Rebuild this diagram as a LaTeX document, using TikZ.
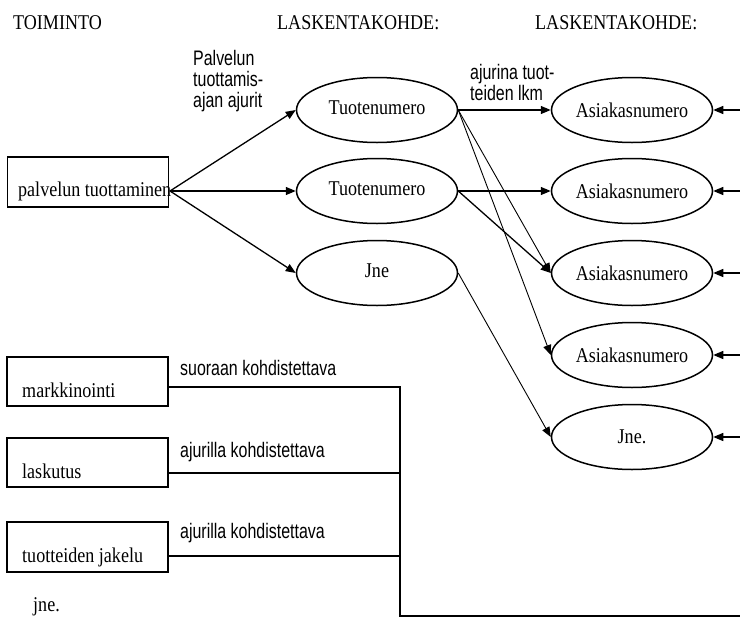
\documentclass[tikz,border=0pt]{standalone}
\usepackage{fontspec}
\setmainfont[FakeStretch=0.86]{Liberation Serif}
\newfontfamily\narrowsf[FakeStretch=0.76]{Liberation Sans}
\usetikzlibrary{shapes.geometric,arrows.meta}
\begin{document}
\begin{tikzpicture}[x=1pt,y=-1pt,
  serif/.style={font=\fontsize{21}{23}\selectfont, inner sep=0pt},
  lbl/.style={font=\narrowsf\fontsize{21}{21}\selectfont, align=left, inner sep=0pt},
  ell/.style={ellipse, draw, line width=1.5pt, minimum width=161pt, minimum height=65pt, inner sep=0pt, font=\fontsize{21}{23}\selectfont},
  boxn/.style={draw, line width=1.3pt, minimum width=161pt, minimum height=49pt, inner sep=0pt},
  conn/.style={line width=1.3pt, -{Triangle[length=10pt,width=8pt]}},
  thinconn/.style={line width=0.9pt, -{Triangle[length=10pt,width=8pt]}},
  bus/.style={line width=1.3pt}]
\useasboundingbox (0,0) rectangle (740,627);
\fill[white] (0,0) rectangle (740,627);

% headers
\node[serif, anchor=base west] (h1) at (13,29) {TOIMINTO};
\node[serif, anchor=base west] (h2) at (277,29) {LASKENTAKOHDE:};
\node[serif, anchor=base west] (h3) at (535,29) {LASKENTAKOHDE:};

% left ellipses
\node[ell] (t1) at (377,110) {\raisebox{5pt}{Tuotenumero}};
\node[ell] (t2) at (377,191) {\raisebox{5pt}{Tuotenumero}};
\node[ell] (t3) at (377,273) {\raisebox{5pt}{Jne}};

% right ellipses
\node[ell] (a1) at (632,110) {Asiakasnumero};
\node[ell] (a2) at (632,191) {Asiakasnumero};
\node[ell] (a3) at (632,273) {Asiakasnumero};
\node[ell] (a4) at (632,355) {Asiakasnumero};
\node[ell] (a5) at (632,437) {Jne.};

% right edge inputs
\coordinate (e1) at (740,110);
\coordinate (e2) at (740,191);
\coordinate (e3) at (740,273);
\coordinate (e4) at (740,355);
\coordinate (e5) at (740,437);
\foreach \i in {1,...,5} { \draw[conn] (e\i) -- (a\i.east); }

% activity box
\node[boxn, minimum height=50pt] (pt) at (88,182) {};
\node[serif, anchor=base west] (ptl) at (18,196) {palvelun tuottaminen};
\coordinate (src) at (170,191);
\draw[conn] (src) -- (t1.west);
\draw[conn] (src) -- (t2.west);
\draw[conn] (src) -- (t3.west);

\node[lbl, anchor=base west] (pl) at (193,107) {Palvelun\\tuottamis-\\ajan ajurit};

% connectors between cost objects
\draw[conn] (t1.east) -- (a1.west);
\draw[conn] (t2.east) -- (a2.west);
\draw[thinconn] (t1.east) -- (a3.west);
\draw[thinconn] (t1.east) -- (a4.west);
\draw[conn] (t2.east) -- (a3.west);
\draw[thinconn] (t3.east) -- (a5.west);
\node[lbl, anchor=base west] (al) at (470,100) {ajurina tuot-\\teiden lkm};

% lower activities
\node[boxn] (mk) at (87.5,381.5) {};
\node[serif, anchor=base west] (mkl) at (22,397) {markkinointi};
\node[boxn] (ls) at (87.5,462.5) {};
\node[serif, anchor=base west] (lsl) at (22,478) {laskutus};
\node[boxn, minimum height=50pt] (tj) at (87.5,547) {};
\node[serif, anchor=base west] (tjl) at (22,562) {tuotteiden jakelu};
\node[serif, anchor=base west] (jl) at (33,611) {jne.};

\coordinate (j1) at (400,387);
\coordinate (j2) at (400,473);
\coordinate (j3) at (400,556);
\coordinate (j4) at (400,616);
\coordinate (jend) at (740,616);
\draw[bus] (mk.east |- j1) -- (j1) -- (j4) -- (jend);
\draw[bus] (ls.east |- j2) -- (j2);
\draw[bus] (tj.east |- j3) -- (j3);

\node[lbl, anchor=base west] (s1) at (180,375) {suoraan kohdistettava};
\node[lbl, anchor=base west] (s2) at (180,457) {ajurilla kohdistettava};
\node[lbl, anchor=base west] (s3) at (180,538) {ajurilla kohdistettava};
\end{tikzpicture}
\end{document}
